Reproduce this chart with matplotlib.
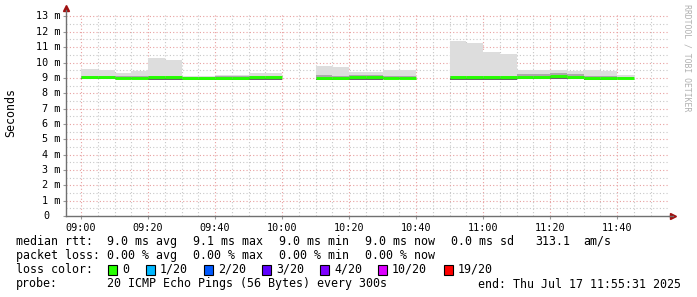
import matplotlib.pyplot as plt
import matplotlib as mpl
from matplotlib.patches import Rectangle
import numpy as np

mpl.rcParams['font.family'] = ['DejaVu Sans Mono']

nan = np.nan
# bin start, minutes after 09:00 (5 minute steps)
t = np.arange(0, 165, 5)
# smoke top (max ping), ms
smoke_max = [9.58, 9.51, 9.32, 9.45, 10.29, 10.16, 9.12, 9.10, 9.18, 9.18, 9.30, 9.30, nan, nan,
             9.77, 9.69, 9.36, 9.40, 9.53, 9.53, nan, nan,
             11.40, 11.27, 10.68, 10.55, 9.51, 9.51, 9.49, 9.45, 9.51, 9.47, 9.19]
# upper dense part of the smoke
smoke_q = [9.12, 9.12, 9.10, 9.12, 9.14, 9.12, 9.06, 9.06, 9.10, 9.10, 9.14, 9.14, nan, nan,
           9.16, 9.14, 9.18, 9.18, 9.12, 9.12, nan, nan,
           9.10, 9.10, 9.14, 9.14, 9.26, 9.26, 9.30, 9.26, 9.14, 9.14, 9.08]
# smoke bottom (min ping)
smoke_min = [8.90, 8.90, 8.90, 8.90, 8.88, 8.88, 8.86, 8.86, 8.86, 8.86, 8.88, 8.88, nan, nan,
             8.88, 8.88, 8.88, 8.88, 8.90, 8.90, nan, nan,
             8.88, 8.88, 8.86, 8.86, 8.90, 8.90, 8.94, 8.92, 8.88, 8.88, 8.90]
median = [9.03, 9.03, 9.02, 9.02, 9.06, 9.06, 8.99, 8.99, 8.97, 9.00, 9.03, 9.03, nan, nan,
          9.00, 9.00, 9.05, 9.05, 9.02, 9.02, nan, nan,
          9.03, 9.03, 9.05, 9.05, 9.07, 9.07, 9.15, 9.08, 9.00, 9.00, 9.00]

xtick_pos = [0, 20, 40, 60, 80, 100, 120, 140, 160]
xtick_labels = ['09:00', '09:20', '09:40', '10:00', '10:20', '10:40', '11:00', '11:20', '11:40']
ytick_pos = list(range(0, 14))
ytick_labels = ['0'] + ['%d m' % v for v in range(1, 14)]

loss_labels = ['0', '1/20', '2/20', '3/20', '4/20', '10/20', '19/20']
loss_colors = ['#26ff00', '#00b8ff', '#0059ff', '#5e00ff', '#7e00ff', '#dd00ff', '#ff0000']

W, H = 697, 297
fig = plt.figure(figsize=(W / 100, H / 100), dpi=100)
ax = fig.add_axes([66 / W, 1 - 216 / H, 603 / W, 203 / H])
ax.set_xlim(-4.48, 175.52)
ax.set_ylim(0, 203 / 15.35)

# grid
for v in np.arange(-0, 175, 5):
    if v % 20:
        ax.axvline(v, color='#c8c8c8', lw=0.8, ls=(0, (1, 2)), zorder=0)
for v in xtick_pos:
    ax.axvline(v, color='#e8a0a0', lw=0.8, ls=(0, (1, 2)), zorder=0)
for v in np.arange(0.5, 13.5, 1):
    ax.axhline(v, color='#c8c8c8', lw=0.8, ls=(0, (1, 2)), zorder=0)
for v in ytick_pos[1:]:
    ax.axhline(v, color='#e8a0a0', lw=0.8, ls=(0, (1, 2)), zorder=0)

lo = np.array(smoke_min)
ax.bar(t, np.array(smoke_max) - lo, bottom=lo, width=5, align='edge', color='#dddddd', lw=0, zorder=1)
ax.bar(t, np.array(smoke_q) - lo, bottom=lo, width=5, align='edge', color='#aaaaaa', lw=0, zorder=2)
ax.bar(t, np.array(median) - 0.06 - lo, bottom=lo, width=5, align='edge', color='#666666', lw=0, zorder=3)
ax.hlines(median, t, t + 5, color='#26ff00', lw=2.1, zorder=4)

ax.set_xticks(xtick_pos)
ax.set_xticklabels(xtick_labels, fontsize=7.3)
ax.set_yticks(ytick_pos)
ax.set_yticklabels([])
ytr = ax.get_yaxis_transform()
for v, s in zip(ytick_pos, ytick_labels):
    off = -6 / 603 if v else -17 / 603
    ax.text(off, v, s, transform=ytr, ha='right', va='center', fontsize=7.3, color='#000000')
ax.tick_params(axis='both', length=2, width=0.8, color='#999999', pad=3)

for s in ['top', 'right']:
    ax.spines[s].set_visible(False)
for s in ['left', 'bottom']:
    ax.spines[s].set_color('#707070')
    ax.spines[s].set_linewidth(1.0)
ax.spines['left'].set_bounds(0, 206 / 15.35)
# arrows
ax.plot([0], [1.025], marker='^', ms=4, color='#a01010', transform=ax.transAxes, clip_on=False)
ax.plot([1.006], [0], marker='>', ms=4, color='#a01010', transform=ax.transAxes, clip_on=False)
ax.plot([1.0, 1.006], [0, 0], color='#707070', lw=1.0, transform=ax.transAxes, clip_on=False)

fig.text(11 / W, 1 - 113 / H, 'Seconds', rotation=90, ha='center', va='center', fontsize=8.4)
fig.text(687 / W, 1 - 4 / H, 'RRDTOOL / TOBI OETIKER', rotation=-90, ha='center', va='top',
         fontsize=5.9, color='#b0b0b0')


def tx(x, y, s, **kw):
    fig.text(x / W, 1 - y / H, s, va='baseline', fontsize=8.4, **kw)


tx(16, 245, 'median rtt:')
for x, s in zip([107, 193, 279, 365, 451, 535, 583],
                ['9.0 ms avg', '9.1 ms max', '9.0 ms min', '9.0 ms now', '0.0 ms sd', '313.1', 'am/s']):
    tx(x, 245, s)
tx(16, 259, 'packet loss:')
for x, s in zip([107, 193, 279, 365], ['0.00 % avg', '0.00 % max', '0.00 % min', '0.00 % now']):
    tx(x, 259, s)
tx(16, 273, 'loss color:')
bx = [108, 146, 204, 262, 320, 378, 444]
for x, s, c in zip(bx, loss_labels, loss_colors):
    fig.patches.append(Rectangle((x / W, 1 - 275 / H), 9 / W, 10 / H, transform=fig.transFigure,
                                 facecolor=c, edgecolor='black', lw=0.8))
    tx(x + 14, 273, s)
tx(16, 287.5, 'probe:')
tx(107, 287.5, '20 ICMP Echo Pings (56 Bytes) every 300s')
tx(681, 287.5, 'end: Thu Jul 17 11:55:31 2025', ha='right')

fig.savefig('out.png', dpi=100, facecolor='white')
